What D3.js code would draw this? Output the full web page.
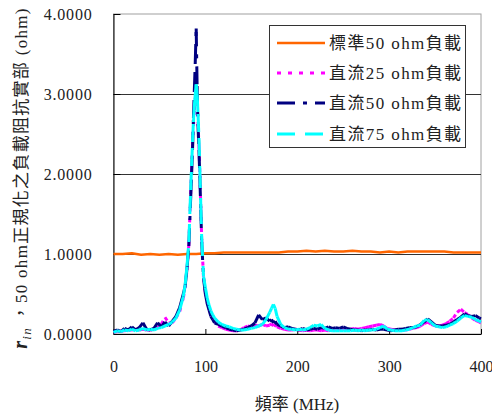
<!DOCTYPE html>
<html><head><meta charset="utf-8">
<script src="https://cdn.jsdelivr.net/npm/d3@7"></script>
<style>body{margin:0;background:#fff} svg{display:block}</style>
</head><body>
<script>
// ---- data ----
const freq = [0,4,8,12,16,20,24,28,32,36,40,44,48,52,56,60,64,68,72,76,
  78,80,82,84,85,86,87,88,89,90,91,92,93,94,95,96,
  98,100,102,104,106,108,110,
  114,118,122,126,130,134,138,142,146,150,154,158,162,166,170,
  172,174,176,178,
  182,186,190,194,198,202,206,210,214,218,222,226,230,234,238,242,246,250,254,258,
  262,266,270,274,278,282,286,290,294,298,302,306,310,314,318,322,326,330,334,338,
  342,346,350,354,358,362,366,370,374,378,382,386,390,394,398,400];

const dc25 = [0.02,0.03,0.04,0.04,0.05,0.05,0.06,0.05,0.06,0.05,0.05,0.06,0.08,0.12,0.21,0.14,0.14,0.20,0.28,0.45,
  0.58,0.80,1.12,1.75,2.05,2.35,2.60,2.80,2.95,3.00,2.90,2.65,2.35,2.00,1.60,1.18,
  0.70,0.52,0.40,0.32,0.25,0.20,0.16,
  0.10,0.08,0.06,0.05,0.04,0.04,0.05,0.08,0.10,0.09,0.11,0.10,0.12,0.10,0.11,
  0.13,0.10,0.12,0.09,
  0.07,0.06,0.05,0.05,0.06,0.05,0.04,0.05,0.04,0.05,0.05,0.04,0.05,0.04,0.05,0.05,0.05,0.06,0.05,0.06,
  0.07,0.06,0.07,0.08,0.09,0.10,0.11,0.12,0.10,0.07,0.06,0.05,0.05,0.05,0.05,0.06,0.07,0.08,0.10,0.13,
  0.15,0.12,0.10,0.10,0.11,0.13,0.16,0.20,0.27,0.31,0.27,0.24,0.20,0.17,0.15,0.14];

const dc50 = [0.03,0.05,0.03,0.07,0.05,0.09,0.05,0.08,0.14,0.06,0.05,0.07,0.14,0.09,0.15,0.10,0.16,0.22,0.33,0.50,
  0.60,0.82,1.10,1.70,2.00,2.30,2.70,3.05,3.40,3.82,3.10,2.60,2.30,1.95,1.55,1.15,
  0.70,0.50,0.38,0.30,0.22,0.18,0.14,
  0.12,0.10,0.08,0.06,0.05,0.04,0.05,0.06,0.08,0.10,0.14,0.24,0.18,0.20,0.16,
  0.18,0.14,0.16,0.12,
  0.10,0.08,0.09,0.07,0.06,0.05,0.07,0.05,0.06,0.07,0.06,0.08,0.07,0.09,0.07,0.08,0.07,0.09,0.07,0.06,
  0.05,0.05,0.04,0.05,0.05,0.06,0.05,0.06,0.06,0.05,0.04,0.05,0.06,0.06,0.07,0.08,0.08,0.09,0.12,0.15,
  0.19,0.15,0.11,0.10,0.10,0.11,0.12,0.15,0.18,0.21,0.25,0.23,0.22,0.23,0.20,0.19];

const dc75 = [0.02,0.04,0.03,0.05,0.04,0.06,0.04,0.05,0.07,0.05,0.06,0.05,0.07,0.08,0.10,0.12,0.15,0.20,0.30,0.47,
  0.62,0.85,1.15,1.80,2.10,2.40,2.65,2.85,3.00,3.12,3.00,2.75,2.45,2.05,1.60,1.20,
  0.72,0.58,0.45,0.36,0.29,0.24,0.20,
  0.15,0.12,0.10,0.09,0.07,0.06,0.05,0.05,0.06,0.07,0.08,0.10,0.12,0.18,0.27,
  0.32,0.37,0.32,0.22,
  0.12,0.08,0.06,0.06,0.05,0.06,0.05,0.06,0.08,0.11,0.10,0.12,0.07,0.05,0.04,0.04,0.04,0.04,0.04,0.04,
  0.05,0.04,0.05,0.04,0.05,0.05,0.06,0.08,0.10,0.06,0.05,0.04,0.04,0.04,0.05,0.06,0.08,0.10,0.11,0.17,
  0.18,0.14,0.10,0.09,0.08,0.09,0.11,0.13,0.16,0.20,0.23,0.22,0.21,0.18,0.16,0.15];

const stdFreq = [0,10,20,30,40,50,60,70,80,90,100,110,120,130,140,150,160,170,180,190,200,
  210,220,230,240,250,260,270,280,290,300,310,320,330,340,350,360,370,380,390,400];
const std50 = [1.00,1.00,1.01,0.99,1.00,0.99,1.00,0.99,1.00,1.00,1.01,1.01,1.02,1.02,1.02,1.02,1.02,1.02,1.02,1.03,1.03,
  1.04,1.03,1.04,1.03,1.03,1.04,1.03,1.03,1.02,1.03,1.02,1.03,1.03,1.03,1.03,1.03,1.02,1.02,1.02,1.02];

const xTicks = [0,100,200,300,400];
const yTicks = [0,1,2,3,4];
const legendLabels = ["標準50 ohm負載","直流25 ohm負載","直流50 ohm負載","直流75 ohm負載"];
const seriesColors = ["#FF6600","#FF00FF","#000080","#00FFFF"];
const seriesDash = [null,"4,7","18,8,4,8","18,10"];

// ---- chart ----
const W = 492, H = 417;
const svg = d3.select("body").append("svg").attr("width", W).attr("height", H);
const font = "'Liberation Serif','Noto Sans CJK TC',serif";

const x = d3.scaleLinear().domain([0,400]).range([113.5,481]);
const y = d3.scaleLinear().domain([0,4]).range([334,14]);

// plot frame (gray top/right)
svg.append("rect").attr("x", x(0)).attr("y", y(4)).attr("width", x(400)-x(0)).attr("height", y(0)-y(4))
  .attr("fill","#fff").attr("stroke","#a0a0a0").attr("stroke-width",1);

// gridlines
svg.append("g").selectAll("line").data(yTicks.filter(d=>d>0 && d<4)).join("line")
  .attr("x1", x(0)).attr("x2", x(400)).attr("y1", d=>Math.round(y(d))+0.5).attr("y2", d=>Math.round(y(d))+0.5)
  .attr("stroke","#333").attr("stroke-width",1);

// axes
const yAxis = d3.axisLeft(y).tickValues(yTicks).tickFormat(d3.format(".4f")).tickSizeInner(-7).tickSizeOuter(0).tickPadding(21);
const gy = svg.append("g").attr("transform",`translate(${x(0)},0)`).call(yAxis);
gy.select(".domain").attr("stroke","#000");
gy.selectAll(".tick line").attr("stroke","#000");
gy.selectAll("text").attr("font-family",font).attr("font-size",16).attr("fill","#222").attr("letter-spacing",0.8);

const xAxis = d3.axisBottom(x).tickValues(xTicks).tickFormat(d3.format("d")).tickSizeInner(-5).tickSizeOuter(0).tickPadding(27);
const gx = svg.append("g").attr("transform",`translate(0,${y(0)})`).call(xAxis);
gx.select(".domain").attr("stroke","#000");
gx.selectAll(".tick line").attr("stroke","#000");
gx.selectAll("text").attr("font-family",font).attr("font-size",16).attr("fill","#222");

// series: each segment drawn on its own so the dash pattern restarts per segment
const line = d3.line().x(d=>x(d[0])).y(d=>y(d[1]));
const seriesData = [
  d3.zip(stdFreq, std50),
  d3.zip(freq, dc25),
  d3.zip(freq, dc50),
  d3.zip(freq, dc75)
];
const widths = [2.5,3,3,3];
seriesData.forEach((pts,i)=>{
  const g = svg.append("g").attr("fill","none").attr("stroke", seriesColors[i])
    .attr("stroke-width", widths[i]).attr("stroke-linecap","butt");
  if (!seriesDash[i]) {
    g.append("path").datum(pts).attr("d", line).attr("stroke-linejoin","round");
  } else {
    g.selectAll("path").data(d3.pairs(pts)).join("path").attr("d", line)
      .attr("stroke-dasharray", seriesDash[i]);
  }
});

// legend
const lg = svg.append("g");
lg.append("rect").attr("x",269.5).attr("y",25.5).attr("width",196).attr("height",122)
  .attr("fill","#fff").attr("stroke","#333").attr("stroke-width",1);
const ly = [43,73,103,134];
legendLabels.forEach((t,i)=>{
  lg.append("line").attr("x1",277).attr("x2",325).attr("y1",ly[i]).attr("y2",ly[i])
    .attr("stroke",seriesColors[i]).attr("stroke-width",widths[i]).attr("stroke-dasharray",seriesDash[i]);
  lg.append("text").attr("x",329).attr("y",ly[i]+6).attr("font-family",font).attr("font-size",17)
    .attr("letter-spacing",1.4).attr("fill","#222").text(t);
});

// x title
svg.append("text").attr("x",297).attr("y",410).attr("text-anchor","middle")
  .attr("font-family",font).attr("font-size",17).attr("fill","#222").text("頻率 (MHz)");

// y title
const yt = svg.append("text").attr("transform","translate(27,178) rotate(-90)").attr("text-anchor","middle")
  .attr("font-family",font).attr("font-size",17).attr("fill","#222").attr("letter-spacing",1.3);
yt.append("tspan").attr("font-style","italic").attr("font-weight","bold").attr("font-size",20).text("r");
yt.append("tspan").attr("font-style","italic").attr("font-size",13).attr("dy",4).text("in");
yt.append("tspan").attr("dy",-4).text(" ，50 ohm正規化之負載阻抗實部 (ohm)");
</script>
</body></html>
